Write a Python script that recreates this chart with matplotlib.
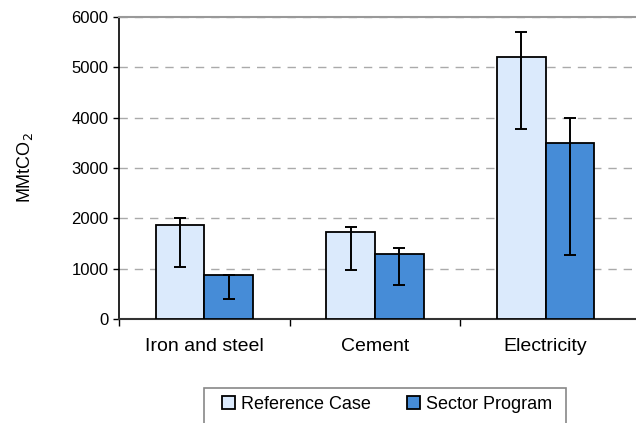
import matplotlib
import numpy as np

matplotlib.use("Agg")
import matplotlib.pyplot as plt  # noqa: E402
from matplotlib.patches import Rectangle  # noqa: E402

plt.rcParams["font.family"] = ["Liberation Sans", "DejaVu Sans"]

SECTORS = ["Iron and steel", "Cement", "Electricity"]

# Central estimates (MMtCO2) with low/high error-bar ends.
REF_VALUES = [1870, 1735, 5195]
REF_LOW = [1035, 970, 3765]
REF_HIGH = [2000, 1830, 5695]

PROG_VALUES = [870, 1300, 3500]
PROG_LOW = [405, 665, 1265]
PROG_HIGH = [870, 1405, 4000]

REF_COLOR = "#dbeafc"
PROG_COLOR = "#468cd7"

W, H = 636, 423


def _yerr(values, low, high):
    v = np.asarray(values, dtype=float)
    return [v - np.asarray(low), np.asarray(high) - v]


fig = plt.figure(figsize=(W / 100, H / 100), dpi=100)
ax = fig.add_axes([0.187, 0.246, 0.813, 0.714])

x = np.arange(len(SECTORS))
width = 0.285
err_kw = {"ecolor": "black", "elinewidth": 1.4, "capsize": 4.5, "capthick": 1.4}

ax.bar(x - width / 2, REF_VALUES, width, yerr=_yerr(REF_VALUES, REF_LOW, REF_HIGH),
       color=REF_COLOR, edgecolor="black", linewidth=1.3, error_kw=err_kw,
       label="Reference Case", zorder=3)
ax.bar(x + width / 2, PROG_VALUES, width, yerr=_yerr(PROG_VALUES, PROG_LOW, PROG_HIGH),
       color=PROG_COLOR, edgecolor="black", linewidth=1.3, error_kw=err_kw,
       label="Sector Program", zorder=3)

ax.set_ylim(0, 6000)
ax.set_xlim(-0.5, 2.53)
ax.set_yticks(range(0, 6001, 1000))
ax.tick_params(axis="y", labelsize=12, length=4, width=1, direction="out")

# Category labels centred; ticks sit on the category boundaries.
ax.set_xticks(x)
ax.set_xticklabels(SECTORS, fontsize=14)
ax.tick_params(axis="x", length=0, pad=14)
ax.set_xticks([-0.5, 0.5, 1.5], minor=True)
ax.tick_params(axis="x", which="minor", length=5, width=1, direction="out")

ax.yaxis.grid(True, linestyle=(0, (6, 5)), color="#aaaaaa", linewidth=1, zorder=0)
ax.set_axisbelow(True)

ax.spines["right"].set_visible(False)
ax.spines["top"].set_color("#999999")
ax.spines["top"].set_linewidth(1.5)
ax.spines["left"].set_linewidth(1.2)
ax.spines["bottom"].set_color("#333333")
ax.spines["bottom"].set_linewidth(1.5)

ax.set_ylabel("MMtCO$_2$", fontsize=13)
ax.yaxis.set_label_coords(-0.162, 0.5)

# Legend box drawn by hand so its padding matches the original.
fig.patches.append(Rectangle((204 / W, -0.01), 362 / W, (H - 388) / H + 0.01,
                             transform=fig.transFigure, facecolor="white",
                             edgecolor="#888888", linewidth=1.2))
fig.legend(loc="center left", bbox_to_anchor=(222 / W, 1 - 404 / H), ncol=2,
           fontsize=13, frameon=False, borderpad=0, borderaxespad=0,
           handlelength=0.7, handleheight=0.7, handletextpad=0.35,
           columnspacing=2.0)

fig.savefig("out.png", dpi=100)
